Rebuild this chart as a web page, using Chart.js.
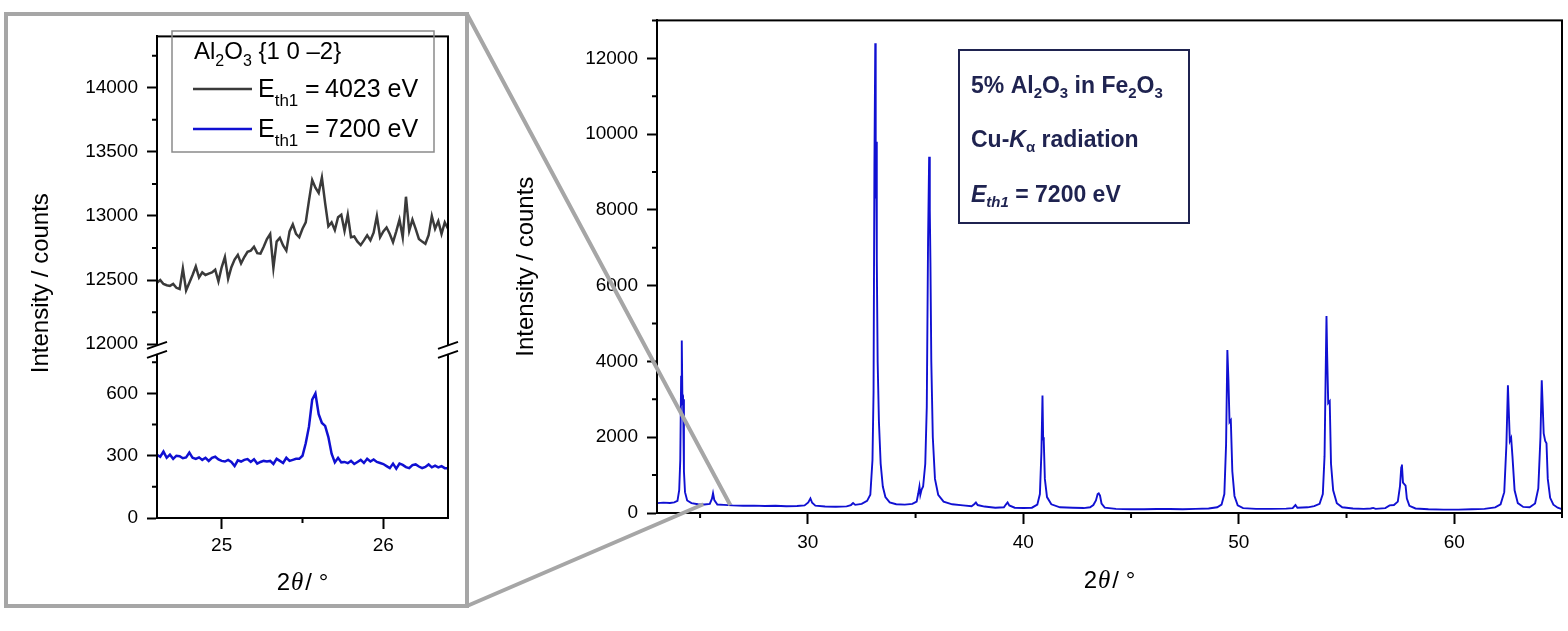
<!DOCTYPE html>
<html><head><meta charset="utf-8">
<script src="https://cdn.jsdelivr.net/npm/chart.js@4.4.1/dist/chart.umd.min.js"></script>
<style>
html,body{margin:0;padding:0;background:#fff;width:1568px;height:631px;overflow:hidden}
#main{position:absolute;left:0;top:0}
#inset{position:absolute;left:10px;top:16px}
</style></head><body>
<canvas id="main" width="1568" height="631"></canvas>
<canvas id="inset" width="452" height="588"></canvas>
<script>
// ---------- DATA ----------
const mainTwoTheta = [
23.00,23.30,23.60,23.80,23.95,24.03,24.08,24.12,24.15,24.18,24.21,24.25,24.30,24.40,24.60,24.90,25.20,25.45,25.55,25.60,25.66,25.80,
26.10,26.50,27.00,27.50,28.00,28.50,29.00,29.50,29.85,30.02,30.12,30.20,30.35,30.80,31.30,31.80,32.00,32.10,32.20,32.50,32.75,32.90,
33.00,33.05,33.09,33.13,33.15,33.17,33.20,33.24,33.30,33.38,33.48,33.60,33.80,34.10,34.50,34.85,35.05,35.12,35.18,35.22,35.28,35.35,
35.45,35.52,35.58,35.63,35.66,35.69,35.73,35.80,35.90,36.05,36.30,36.70,37.20,37.60,37.72,37.80,37.88,38.20,38.70,39.10,39.20,39.27,
39.35,39.60,40.00,40.40,40.65,40.77,40.84,40.89,40.92,40.95,41.00,41.10,41.30,41.70,42.30,42.80,43.10,43.25,43.37,43.45,43.50,43.56,
43.63,43.78,44.30,45.00,45.60,46.20,46.80,47.40,48.00,48.60,49.00,49.20,49.33,49.41,49.47,49.52,49.57,49.63,49.70,49.80,49.95,50.20,
50.80,51.50,52.20,52.50,52.63,52.72,53.20,53.50,53.75,53.90,53.98,54.03,54.07,54.10,54.15,54.22,54.28,54.38,54.55,54.80,55.30,55.80,
56.12,56.24,56.35,56.80,57.00,57.20,57.38,57.48,57.54,57.57,57.62,57.68,57.74,57.80,57.92,58.20,58.80,59.50,60.20,60.80,61.40,61.90,
62.15,62.32,62.42,62.49,62.53,62.58,62.64,62.70,62.80,62.95,63.20,63.50,63.75,63.90,64.00,64.06,64.10,64.15,64.22,64.28,64.34,64.45,
64.60,64.80,65.00];
const mainCounts = [
260,275,265,280,320,600,1400,3600,4550,2950,3000,1100,550,330,260,230,225,240,380,520,340,225,
215,200,190,195,185,190,180,185,200,280,385,270,195,170,165,175,210,265,215,240,320,480,
1400,3200,9200,12400,8300,9800,6700,4000,2400,1300,700,420,280,230,220,240,300,500,700,480,620,700,
1300,2800,7200,9400,8000,6600,4000,2000,900,480,300,230,200,180,230,275,210,170,140,150,230,280,
200,140,130,140,220,500,1600,3100,2000,1900,900,420,230,150,140,130,150,210,330,500,520,460,
250,140,110,100,100,105,105,100,110,120,150,220,500,1800,4300,3500,2400,2450,1100,450,200,130,
110,110,115,130,210,140,150,180,240,500,1500,3600,5200,4200,2900,2950,1300,600,260,150,120,110,
120,135,110,130,200,210,300,700,1200,1280,800,760,720,380,190,120,100,90,90,100,110,150,
230,550,1800,3370,2700,1900,1980,1500,600,260,160,150,250,650,2000,3500,2900,2100,1900,1840,900,400,
220,140,100];

const insetTwoTheta = [
24.60,24.62,24.64,24.66,24.68,24.70,24.72,24.74,24.76,24.78,
24.80,24.82,24.84,24.86,24.88,24.90,24.92,24.94,24.96,24.98,
25.00,25.02,25.04,25.06,25.08,25.10,25.12,25.14,25.16,25.18,
25.20,25.22,25.24,25.26,25.28,25.30,25.32,25.34,25.36,25.38,
25.40,25.42,25.44,25.46,25.48,25.50,25.52,25.54,25.56,25.58,
25.60,25.62,25.64,25.66,25.68,25.70,25.72,25.74,25.76,25.78,
25.80,25.82,25.84,25.86,25.88,25.90,25.92,25.94,25.96,25.98,
26.00,26.02,26.04,26.06,26.08,26.10,26.12,26.14,26.16,26.18,
26.20,26.22,26.24,26.26,26.28,26.30,26.32,26.34,26.36,26.38,
26.40];
const insetCounts4023 = [
12480,12500,12470,12460,12455,12470,12440,12430,12590,12420,
12480,12540,12606,12520,12560,12540,12550,12560,12581,12490,
12600,12680,12510,12600,12660,12697,12630,12680,12720,12730,
12760,12710,12707,12760,12820,12859,12594,12800,12830,12770,
12730,12880,12935,12860,12834,12900,12950,13120,13280,13220,
13180,13300,13100,12920,12950,12890,12990,13010,12884,13010,
12834,12840,12800,12773,12810,12849,12810,12870,13000,12834,
12880,12910,12860,12796,12880,12972,12834,13150,12884,12972,
12900,12821,12800,12783,12850,13000,12900,12960,12860,12950,
12900];
const insetCounts7200 = [
305,295,320,290,305,285,300,298,288,292,
315,290,285,292,280,290,275,290,295,282,
275,272,280,270,250,278,272,280,284,270,
283,262,270,275,272,275,260,285,275,265,
290,275,280,285,285,300,360,440,570,600,
500,458,444,390,310,268,290,268,270,264,
275,260,270,280,265,285,272,282,270,265,
260,250,240,262,238,262,256,245,240,255,
258,248,240,246,258,244,252,244,250,240,
240];

const mainXTicks = [30,40,50,60];
const mainXMinor = [25,35,45,55,65];
const mainYTicks = [0,2000,4000,6000,8000,10000,12000];
const mainYMinor = [1000,3000,5000,7000,9000,11000,13000];
const insetXTicks = [25,26];
const insetXMinor = [25.5];
const insetYHighTicks = [12000,12500,13000,13500,14000];
const insetYHighMinor = [12250,12750,13250,13750,14250];
const insetYLowTicks = [0,300,600];
const insetYLowMinor = [150,450,750];

// ---------- STYLE ----------
const FONT = '"Liberation Sans", Arial, Helvetica, sans-serif';
const SERIF = '"Liberation Serif", "Times New Roman", serif';
const BLUE = '#1010d2';
const DARK = '#3a3a3a';
const NAVY = '#1f2350';
const GRAYFRAME = '#a6a6a6';

function rich(ctx, x, y, parts, color) {
  ctx.save();
  ctx.fillStyle = color; ctx.textBaseline = 'alphabetic'; ctx.textAlign = 'left';
  for (const p of parts) {
    ctx.font = (p.i ? 'italic ' : '') + (p.b ? 'bold ' : '') + p.s + 'px ' + (p.f || FONT);
    if (p.x !== undefined) x = p.x;
    ctx.fillText(p.t, x, y + (p.dy || 0));
    x += ctx.measureText(p.t).width + (p.g || 0);
  }
  ctx.restore();
}
function richWidth(ctx, parts) {
  let w = 0;
  ctx.save();
  for (const p of parts) {
    ctx.font = (p.i ? 'italic ' : '') + (p.b ? 'bold ' : '') + p.s + 'px ' + (p.f || FONT);
    w += ctx.measureText(p.t).width + (p.g || 0);
  }
  ctx.restore();
  return w;
}
function xTitle(ctx, area, y) {
  const parts = [{t:'2', s:24, g:1}, {t:'θ', s:25, i:1, f:SERIF, g:2}, {t:'/ °', s:24}];
  const w = richWidth(ctx, parts);
  rich(ctx, (area.left + area.right) / 2 - w / 2, y, parts, '#000');
}
function minorTicks(ctx, scale, values, len, horizontal) {
  ctx.save(); ctx.strokeStyle = '#000'; ctx.lineWidth = 2; ctx.beginPath();
  for (const v of values) {
    const p = scale.getPixelForValue(v);
    if (horizontal) { ctx.moveTo(p, scale.top); ctx.lineTo(p, scale.top + len); }
    else { ctx.moveTo(scale.right - len, p); ctx.lineTo(scale.right, p); }
  }
  ctx.stroke(); ctx.restore();
}
const fixTicks = arr => s => { s.ticks = arr.map(v => ({value: v})); };
const tickFont = {family: FONT, size: 19};
const gridOpts = len => ({drawOnChartArea: false, drawTicks: true, tickLength: len, tickWidth: 2, tickColor: '#000'});
const borderOpts = {display: true, color: '#000', width: 2};

// ---------- MAIN CHART ----------
const mainDecor = {
  id: 'mainDecor',
  afterDraw(chart) {
    const ctx = chart.ctx, a = chart.chartArea, sx = chart.scales.x, sy = chart.scales.y;
    minorTicks(ctx, sx, mainXMinor, 5, true);
    minorTicks(ctx, sy, mainYMinor, 5, false);
    ctx.save();
    ctx.strokeStyle = '#000'; ctx.lineWidth = 2;
    ctx.strokeRect(a.left, a.top, a.right - a.left, a.bottom - a.top);
    ctx.strokeStyle = NAVY; ctx.lineWidth = 2;
    ctx.strokeRect(959, 50, 230, 173);
    ctx.restore();
    xTitle(ctx, a, 588);
    rich(ctx, 971, 93, [
      {t:'5% Al', b:1, s:23}, {t:'2', b:1, s:15, dy:5}, {t:'O', b:1, s:23}, {t:'3', b:1, s:15, dy:5},
      {t:' in Fe', b:1, s:23}, {t:'2', b:1, s:15, dy:5}, {t:'O', b:1, s:23}, {t:'3', b:1, s:15, dy:5}], NAVY);
    rich(ctx, 971, 147, [
      {t:'Cu-', b:1, s:23}, {t:'K', b:1, i:1, s:23}, {t:'α', b:1, s:15, dy:5}, {t:' radiation', b:1, s:23}], NAVY);
    rich(ctx, 971, 202, [
      {t:'E', b:1, i:1, s:23}, {t:'th1', b:1, i:1, s:15, dy:5}, {t:' = 7200 eV', b:1, s:23}], NAVY);
    ctx.save();
    ctx.strokeStyle = GRAYFRAME; ctx.lineWidth = 4; ctx.lineCap = 'butt';
    ctx.strokeRect(6, 14, 461, 592);
    ctx.beginPath();
    ctx.moveTo(467, 14); ctx.lineTo(sx.getPixelForValue(26.4), sy.getPixelForValue(210));
    ctx.moveTo(467, 606); ctx.lineTo(sx.getPixelForValue(25.15), sy.getPixelForValue(230));
    ctx.stroke();
    ctx.restore();
  }
};

new Chart(document.getElementById('main'), {
  type: 'scatter',
  data: {datasets: [{
    data: mainTwoTheta.map((x, i) => ({x: x, y: mainCounts[i]})),
    showLine: true, borderColor: BLUE, borderWidth: 1.9, pointRadius: 0, tension: 0
  }]},
  options: {
    responsive: false, animation: false, events: [],
    layout: {padding: {left: 500, top: 20, right: 6, bottom: 0}},
    plugins: {legend: {display: false}, tooltip: {enabled: false}},
    scales: {
      x: {
        type: 'linear', min: 23, max: 65,
        afterBuildTicks: fixTicks(mainXTicks),
        afterFit: s => { s.height = 118; },
        ticks: {font: tickFont, color: '#000', padding: 7, maxRotation: 0, autoSkip: false, callback: v => String(v)},
        grid: gridOpts(11), border: borderOpts,
        title: {display: false, text: '2θ / °'}
      },
      y: {
        type: 'linear', min: 0, max: 13000,
        afterBuildTicks: fixTicks(mainYTicks),
        afterFit: s => { s.width = 157; },
        ticks: {font: tickFont, color: '#000', padding: 9, autoSkip: false, callback: v => String(v)},
        grid: gridOpts(10), border: borderOpts,
        title: {display: true, text: 'Intensity / counts', font: {family: FONT, size: 24}, color: '#000', padding: {top: 12, bottom: 0}}
      }
    }
  },
  plugins: [mainDecor]
});

// ---------- INSET CHART ----------
const insetDecor = {
  id: 'insetDecor',
  afterDraw(chart) {
    const ctx = chart.ctx, a = chart.chartArea, sx = chart.scales.x;
    const yH = chart.scales.yHigh, yL = chart.scales.yLow;
    minorTicks(ctx, sx, insetXMinor, 5, true);
    minorTicks(ctx, yH, insetYHighMinor, 5, false);
    minorTicks(ctx, yL, insetYLowMinor, 5, false);
    ctx.save();
    ctx.strokeStyle = '#000'; ctx.lineWidth = 2;
    ctx.strokeRect(a.left, a.top, a.right - a.left, a.bottom - a.top);
    const yj = yL.top;
    for (const x of [a.left, a.right]) {
      ctx.fillStyle = '#fff';
      ctx.fillRect(x - 3, yj - 6, 6, 8);
      ctx.beginPath();
      ctx.moveTo(x - 10, yj - 3); ctx.lineTo(x + 10, yj - 10);
      ctx.moveTo(x - 10, yj + 6); ctx.lineTo(x + 10, yj - 1);
      ctx.strokeStyle = '#000'; ctx.lineWidth = 2; ctx.stroke();
    }
    ctx.translate(31, (a.top + a.bottom) / 2 + 6);
    ctx.rotate(-Math.PI / 2);
    ctx.font = '24px ' + FONT; ctx.fillStyle = '#000'; ctx.textAlign = 'center'; ctx.textBaseline = 'middle';
    ctx.fillText('Intensity / counts', 0, 0);
    ctx.restore();
    xTitle(ctx, a, 574);
    ctx.save();
    ctx.strokeStyle = '#8a8a8a'; ctx.lineWidth = 1.5;
    ctx.strokeRect(162, 15, 262, 121);
    ctx.lineWidth = 2.5;
    ctx.strokeStyle = DARK; ctx.beginPath(); ctx.moveTo(183, 73); ctx.lineTo(242, 73); ctx.stroke();
    ctx.strokeStyle = BLUE; ctx.beginPath(); ctx.moveTo(183, 113); ctx.lineTo(242, 113); ctx.stroke();
    ctx.restore();
    rich(ctx, 184, 43, [
      {t:'Al', s:24}, {t:'2', s:16, dy:7}, {t:'O', s:24}, {t:'3', s:16, dy:7}, {t:' {1 0 –2}', s:24}], '#000');
    rich(ctx, 248, 81, [
      {t:'E', s:25}, {t:'th1', s:17, dy:9}, {t:'=', s:25, x:295}, {t:'4023 eV', s:25, x:315}], '#000');
    rich(ctx, 248, 121, [
      {t:'E', s:25}, {t:'th1', s:17, dy:9}, {t:'=', s:25, x:295}, {t:'7200 eV', s:25, x:315}], '#000');
  }
};

new Chart(document.getElementById('inset'), {
  type: 'scatter',
  data: {datasets: [
    {data: insetTwoTheta.map((x, i) => ({x: x, y: insetCounts4023[i]})), yAxisID: 'yHigh',
     showLine: true, borderColor: DARK, borderWidth: 2.5, pointRadius: 0, tension: 0},
    {data: insetTwoTheta.map((x, i) => ({x: x, y: insetCounts7200[i]})), yAxisID: 'yLow',
     showLine: true, borderColor: BLUE, borderWidth: 2.5, pointRadius: 0, tension: 0}
  ]},
  options: {
    responsive: false, animation: false, events: [],
    layout: {padding: {left: 0, top: 7, right: 14, bottom: 0}},
    plugins: {legend: {display: false}, tooltip: {enabled: false}},
    scales: {
      x: {
        type: 'linear', min: 24.6, max: 26.4,
        afterBuildTicks: fixTicks(insetXTicks),
        afterFit: s => { s.height = 86; },
        ticks: {font: tickFont, color: '#000', padding: 5, maxRotation: 0, autoSkip: false, callback: v => String(v)},
        grid: gridOpts(11), border: borderOpts,
        title: {display: false, text: '2θ / °'}
      },
      yLow: {
        type: 'linear', position: 'left', stack: 'inset', stackWeight: 170.7, min: 0, max: 800,
        afterBuildTicks: fixTicks(insetYLowTicks),
        afterFit: s => { s.width = 147; },
        ticks: {font: tickFont, color: '#000', padding: 9, autoSkip: false, callback: v => String(v)},
        grid: gridOpts(10), border: borderOpts
      },
      yHigh: {
        type: 'linear', position: 'left', stack: 'inset', stackWeight: 324.3, min: 11940, max: 14400,
        afterBuildTicks: fixTicks(insetYHighTicks),
        afterFit: s => { s.width = 147; },
        ticks: {font: tickFont, color: '#000', padding: 9, autoSkip: false, callback: v => String(v)},
        grid: gridOpts(10), border: borderOpts
      }
    }
  },
  plugins: [insetDecor]
});
</script>
</body></html>
